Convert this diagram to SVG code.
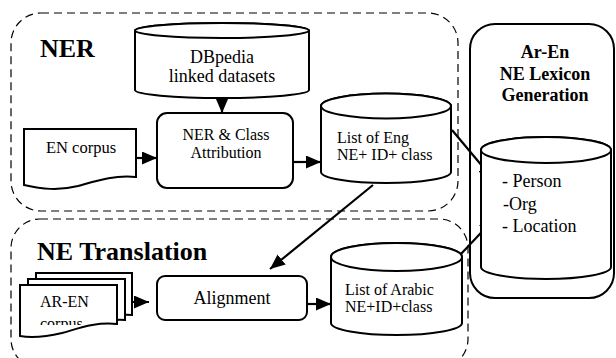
<svg xmlns="http://www.w3.org/2000/svg" width="616" height="358" viewBox="0 0 616 358" font-family="Liberation Serif, DejaVu Serif, serif">
<style>
text{font-family:'Liberation Serif','DejaVu Serif',serif;fill:#000}
.sh{fill:#fff;stroke:#000;stroke-width:2}
.dash{fill:none;stroke:#000;stroke-width:1.2;stroke-dasharray:8 5}
.ln{stroke:#000;stroke-width:2.2;fill:none;marker-end:url(#ah)}
</style>
<defs>
<marker id="ah" markerUnits="userSpaceOnUse" markerWidth="16" markerHeight="14" refX="15" refY="6.5" orient="auto">
<path d="M0,0 L15,6.5 L0,13 Z" fill="#000"/>
</marker>
<clipPath id="clipAR"><rect x="20" y="285" width="97" height="40"/></clipPath>
</defs>
<rect width="616" height="358" fill="#fff"/>

<g id="ner-group">
<rect class="dash" x="11" y="13" width="447" height="198" rx="30" ry="30"/>
<text x="40" y="57" font-size="26" font-weight="bold">NER</text>
</g>
<g id="translation-group">
<rect class="dash" x="11" y="219" width="457" height="149" rx="29" ry="29"/>
<text x="37" y="260" font-size="26" font-weight="bold">NE Translation</text>
</g>
<g id="lexicon-group">
<rect class="sh" x="470" y="24" width="144" height="274" rx="25" ry="25"/>
<text x="545" y="58" font-size="18" font-weight="bold" text-anchor="middle">Ar-En</text>
<text x="545" y="80" font-size="18" font-weight="bold" text-anchor="middle">NE Lexicon</text>
<text x="545" y="101" font-size="18" font-weight="bold" text-anchor="middle">Generation</text>
</g>

<g id="connectors">
<line class="ln" x1="222" y1="97" x2="222" y2="113"/>
<line class="ln" x1="136" y1="158" x2="157" y2="158"/>
<line class="ln" x1="293" y1="162" x2="321" y2="162"/>
<line class="ln" x1="452" y1="130" x2="493" y2="179"/>
<line class="ln" x1="373" y1="185" x2="270" y2="269"/>
<line class="ln" x1="112" y1="302" x2="149" y2="302"/>
<line class="ln" x1="307" y1="304" x2="331" y2="304"/>
<line class="ln" x1="460" y1="255" x2="494" y2="219"/>
</g>

<g id="dbpedia">
<path class="sh" d="M135,30.5 V90 A87,8 0 0 0 309,90 V30.5 A87,7.5 0 0 0 135,30.5 Z"/>
<ellipse class="sh" cx="222" cy="30.5" rx="87" ry="7.5"/>
<text x="222" y="63" font-size="18" text-anchor="middle">DBpedia</text>
<text x="222" y="82" font-size="18" text-anchor="middle">linked datasets</text>
</g>

<g id="en-corpus">
<path class="sh" d="M24,129 H136 V177 C112,175 96,181 78,186 C58,191 42,189 24,185 Z"/>
<text x="81" y="153" font-size="16.5" text-anchor="middle">EN corpus</text>
</g>

<g id="ner-class">
<rect class="sh" x="157" y="113" width="136" height="75" rx="10" ry="10"/>
<text x="226" y="140" font-size="16" text-anchor="middle">NER &amp; Class</text>
<text x="226" y="158" font-size="16" text-anchor="middle">Attribution</text>
</g>

<g id="list-eng">
<path class="sh" d="M321,106 V172 A65,11 0 0 0 451,172 V106 A65,12.5 0 0 0 321,106 Z"/>
<ellipse class="sh" cx="386" cy="106" rx="65" ry="12.5"/>
<text x="337" y="143" font-size="16">List of Eng</text>
<text x="337" y="160" font-size="16">NE+ ID+ class</text>
</g>

<g id="lexicon-db">
<path class="sh" d="M481,150 V267 A65,12 0 0 0 611,267 V150 A65,13 0 0 0 481,150 Z"/>
<ellipse class="sh" cx="546" cy="150" rx="65" ry="13"/>
<text x="502" y="187" font-size="18">- Person</text>
<text x="503" y="210" font-size="18">-Org</text>
<text x="502" y="232" font-size="18">- Location</text>
</g>

<g id="ar-en-corpus">
<path class="sh" d="M36,273 H132 V315 C120,314 110,316 98,318 L36,318 Z"/>
<path class="sh" d="M28,279 H125 V320 C113,319 103,321 91,323 L28,323 Z"/>
<path class="sh" d="M20,285 H117 V324 C95,322 80,328 62,333 C45,337 32,338 20,336 Z"/>
<text x="40" y="307" font-size="16">AR-EN</text>
<text x="40" y="329" font-size="16" clip-path="url(#clipAR)">corpus</text>
</g>

<g id="alignment">
<rect class="sh" x="157" y="276" width="150" height="44" rx="8" ry="8"/>
<text x="232" y="304" font-size="18" text-anchor="middle">Alignment</text>
</g>

<g id="list-arabic">
<path class="sh" d="M331,257 V323 A65.5,12 0 0 0 462,323 V257 A65.5,14 0 0 0 331,257 Z"/>
<ellipse class="sh" cx="396.5" cy="257" rx="65.5" ry="14"/>
<text x="345" y="295" font-size="16">List of Arabic</text>
<text x="345" y="312" font-size="16">NE+ID+class</text>
</g>
</svg>
